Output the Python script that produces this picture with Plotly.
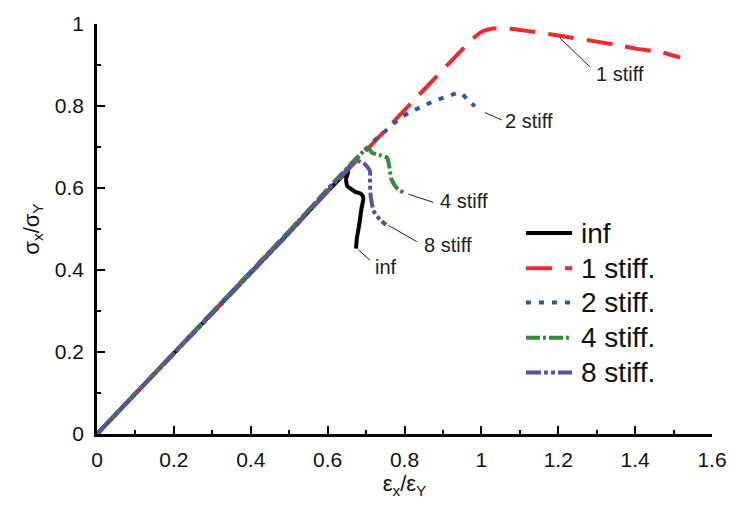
import plotly.graph_objects as go

# Normalised strain (eps_x/eps_Y) and stress (sigma_x/sigma_Y) for each panel type
inf_x = [0, 0.5, 0.654, 0.648, 0.651, 0.671, 0.688, 0.693, 0.688, 0.682, 0.676, 0.674]
inf_y = [0, 0.492, 0.642, 0.622, 0.605, 0.591, 0.585, 0.575, 0.549, 0.509, 0.477, 0.452]

s1_x = [0, 0.5, 0.93, 0.96, 0.985, 1.005, 1.03, 1.08, 1.2, 1.3, 1.36, 1.4, 1.465, 1.517]
s1_y = [0, 0.494, 0.918, 0.947, 0.970, 0.983, 0.989, 0.988, 0.972, 0.957, 0.948, 0.940, 0.932, 0.918]

s2_x = [0, 0.5, 0.715, 0.754, 0.784, 0.812, 0.844, 0.879, 0.914, 0.944, 0.962, 0.983]
s2_y = [0, 0.495, 0.710, 0.742, 0.767, 0.784, 0.798, 0.813, 0.824, 0.833, 0.818, 0.799]

s4_x = [0, 0.5, 0.706, 0.715, 0.736, 0.755, 0.760, 0.766, 0.779, 0.798]
s4_y = [0, 0.495, 0.698, 0.686, 0.680, 0.674, 0.654, 0.622, 0.601, 0.588]

s8_x = [0, 0.5, 0.677, 0.697, 0.710, 0.710, 0.712, 0.719, 0.736, 0.752]
s8_y = [0, 0.490, 0.666, 0.658, 0.642, 0.614, 0.581, 0.545, 0.523, 0.510]

legend_names = ["inf", "1 stiff.", "2 stiff.", "4 stiff.", "8 stiff."]
curve_labels = ["inf", "1 stiff", "2 stiff", "4 stiff", "8 stiff"]

FONT = "Liberation Sans, Arial, sans-serif"

styles = [
    dict(color="#000000", width=4, dash="solid"),
    dict(color="#EE2A2A", width=4, dash="26px,13px"),
    dict(color="#2A58A8", width=4, dash="5px,8px"),
    dict(color="#378A3C", width=4, dash="14px,3px,3px,3px"),
    dict(color="#5B50A8", width=4, dash="15px,3px,4px,3px,4px,3px"),
]

series = [(inf_x, inf_y), (s1_x, s1_y), (s2_x, s2_y), (s4_x, s4_y), (s8_x, s8_y)]

fig = go.Figure()
for (xs, ys), st, nm in zip(series, styles, legend_names):
    fig.add_trace(go.Scatter(
        x=xs, y=ys, mode="lines", name=nm, showlegend=False,
        line=dict(color=st["color"], width=st["width"], dash=st["dash"],
                  shape="spline", smoothing=0.5),
    ))

# Leader lines from each curve end to its text label: (x0, y0, x1, y1, text_x, text_y)
leaders = [
    (0.680, 0.449, 0.710, 0.424, 0.717, 0.408),
    (1.204, 0.966, 1.283, 0.895, 1.293, 0.879),
    (1.009, 0.784, 1.053, 0.766, 1.056, 0.763),
    (0.810, 0.585, 0.875, 0.565, 0.888, 0.569),
    (0.758, 0.509, 0.832, 0.469, 0.845, 0.461),
]
for (x0, y0, x1, y1, tx, ty), lab in zip(leaders, curve_labels):
    fig.add_shape(type="line", x0=x0, y0=y0, x1=x1, y1=y1, xref="x", yref="y",
                  line=dict(color="#222222", width=1))
    fig.add_annotation(x=tx, y=ty, xref="x", yref="y", text=lab, showarrow=False,
                       xanchor="left", yanchor="middle",
                       font=dict(family=FONT, size=20, color="#222222"))

# Legend block: sample line plus name for each series
leg_x0, leg_x1, leg_tx = 1.116, 1.236, 1.254
leg_rows = [0.490, 0.404, 0.321, 0.235, 0.150]
for st, nm, ry in zip(styles, legend_names, leg_rows):
    fig.add_shape(type="line", x0=leg_x0, x1=leg_x1, y0=ry, y1=ry, xref="x", yref="y",
                  line=dict(color=st["color"], width=4, dash=st["dash"]))
    fig.add_annotation(x=leg_tx, y=ry, xref="x", yref="y", text=nm, showarrow=False,
                       xanchor="left", yanchor="middle",
                       font=dict(family=FONT, size=28, color="#111111"))

axis_common = dict(
    showline=True, linecolor="black", linewidth=2.5, showgrid=False, zeroline=False,
    ticks="inside", ticklen=8, tickwidth=2, tickcolor="black",
    tickfont=dict(family=FONT, size=21, color="#111111"),
    minor=dict(ticks="inside", ticklen=4, tickwidth=2, tickcolor="black", dtick=0.1, showgrid=False),
)

fig.update_xaxes(range=[0, 1.6], dtick=0.2, tick0=0, ticklabelstandoff=5,
                 title=dict(text="ε<sub>x</sub>/ε<sub>Y</sub>", standoff=4,
                            font=dict(family=FONT, size=22, color="#111111")),
                 **axis_common)
fig.update_yaxes(range=[0, 1], dtick=0.2, tick0=0, ticklabelstandoff=6,
                 title=dict(text="σ<sub>x</sub>/σ<sub>Y</sub>", standoff=10,
                            font=dict(family=FONT, size=22, color="#111111")),
                 **axis_common)

fig.update_layout(
    width=740, height=516,
    margin=dict(l=97, r=28, t=20, b=82),
    plot_bgcolor="white", paper_bgcolor="white",
    showlegend=False,
)

fig.write_html("out.html")
